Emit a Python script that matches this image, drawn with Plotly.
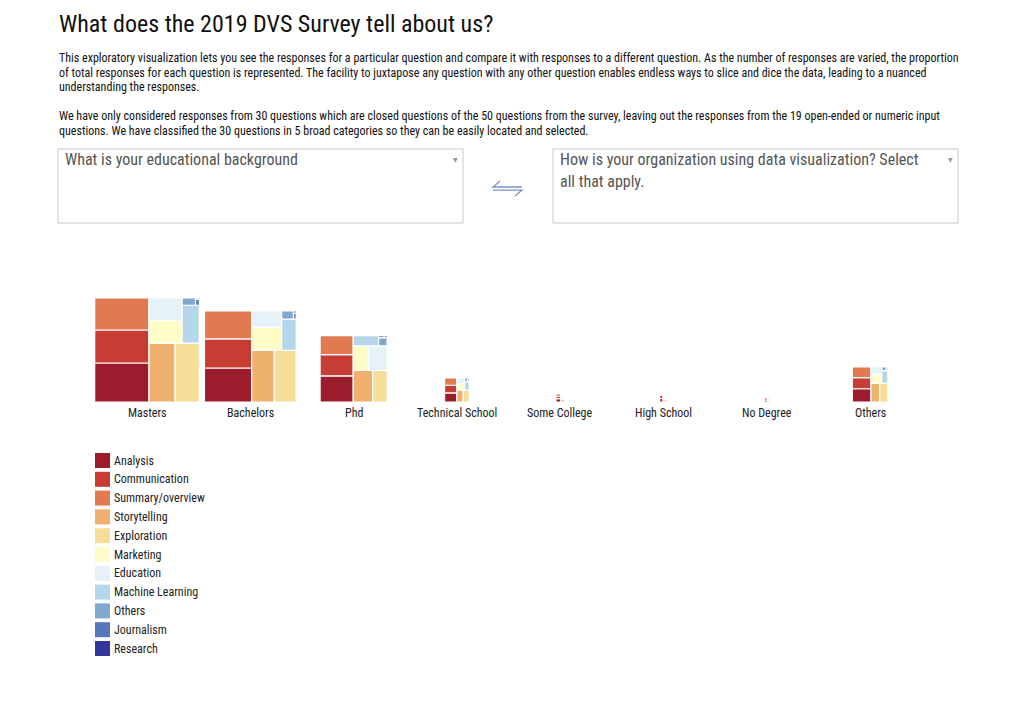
import plotly.graph_objs as go

W, H = 1024, 705
OFF = 8  # page body margin
FW, FH = W - 2 * OFF, H - 2 * OFF
FONT = "Roboto Condensed, Liberation Sans Narrow, DejaVu Sans Condensed, Roboto, sans-serif"

title = "What does the 2019 DVS Survey tell about us?"
intro_1 = ["This exploratory visualization lets you see the responses for a particular question and compare it with responses to a different question. As the number of responses are varied, the proportion",
           "of total responses for each question is represented. The facility to juxtapose any question with any other question enables endless ways to slice and dice the data, leading to a nuanced",
           "understanding the responses."]
intro_2 = ["We have only considered responses from 30 questions which are closed questions of the 50 questions from the survey, leaving out the responses from the 19 open-ended or numeric input",
           "questions. We have classified the 30 questions in 5 broad categories so they can be easily located and selected."]
question_left = ["What is your educational background"]
question_right = ["How is your organization using data visualization? Select", "all that apply."]

education = ["Masters", "Bachelors", "Phd", "Technical School", "Some College",
             "High School", "No Degree", "Others"]
usage = ["Analysis", "Communication", "Summary/overview", "Storytelling", "Exploration",
         "Marketing", "Education", "Machine Learning", "Others", "Journalism", "Research"]
colors = ["#9b1c2c", "#c83d33", "#e17a50", "#efb26e", "#f7de98", "#fefcc7",
          "#e5f2f7", "#b5d7e9", "#80a9d1", "#5478ba", "#35369b"]

# responses per usage, one list per education level
masters = [390, 330, 320, 284, 262, 140, 136, 120, 18, 4, 1]
bachelors = [296, 253, 244, 215, 208, 128, 89, 83, 18, 3, 1]
phd = [159, 129, 116, 113, 83, 70, 83, 48, 13, 2, 1]
technical = [20, 17, 16, 14, 13, 9, 8, 7, 2, 1, 0]
some_college = [3, 2, 2, 2, 1, 1, 1, 0, 0, 0, 0]
high_school = [2, 2, 1, 1, 1, 1, 1, 0, 0, 0, 0]
no_degree = [1, 1, 0, 1, 0, 0, 0, 0, 0, 0, 0]
others = [45, 38, 36, 30, 28, 18, 14, 14, 3, 1, 0]
counts = [masters, bachelors, phd, technical, some_college, high_school, no_degree, others]


def px(x):
    return (x - OFF) / FW


def py(y):
    return 1 - (y - OFF) / FH


def label(x, y, text, size=12, color="#111", xanchor="left", yanchor="middle"):
    return dict(x=px(x), y=py(y), text=text, showarrow=False, xanchor=xanchor,
                yanchor=yanchor, align="left", font=dict(size=size, color=color, family=FONT))


def path(points):
    return "M " + " L ".join("%.4f,%.4f" % (px(x), py(y)) for x, y in points)


fig = go.Figure()

# one small treemap per education level, square side ~ sqrt(total)
base_y = 402
first_x, step = 147, 103.3
scale = 104 / sum(masters) ** 0.5
for i, (edu, vals) in enumerate(zip(education, counts)):
    total = sum(vals)
    side = scale * total ** 0.5
    cx = first_x + i * step
    keep = [k for k, v in enumerate(vals) if v > 0]
    fig.add_trace(go.Treemap(
        ids=[edu] + [edu + "/" + usage[k] for k in keep],
        labels=[edu] + [usage[k] for k in keep],
        parents=[""] + [edu] * len(keep),
        values=[total] + [vals[k] for k in keep],
        branchvalues="total",
        sort=False,
        marker=dict(colors=["white"] + [colors[k] for k in keep],
                    line=dict(color="white", width=1.2),
                    pad=dict(t=0, l=0, r=0, b=0)),
        tiling=dict(packing="squarify", squarifyratio=1.618, flip="y", pad=0),
        pathbar=dict(visible=False),
        textinfo="none",
        hoverinfo="label+value",
        domain=dict(x=[px(cx - side / 2 - 0.3), px(cx + side / 2 + 0.3)],
                    y=[py(base_y), py(base_y - side)]),
    ))

annotations = [label(57, 8, title, size=24, yanchor="top")]
for j, line in enumerate(intro_1):
    annotations.append(label(57, 58 + j * 14.5, line))
for j, line in enumerate(intro_2):
    annotations.append(label(57, 116 + j * 14.5, line))
for j, line in enumerate(question_left):
    annotations.append(label(63, 160 + j * 21, line, size=16, color="#555"))
for j, line in enumerate(question_right):
    annotations.append(label(558, 160 + j * 21, line, size=16, color="#555"))
annotations += [
    label(455, 159, "▾", size=10, color="#999", xanchor="center"),
    label(950, 159, "▾", size=10, color="#999", xanchor="center"),
]
for i, edu in enumerate(education):
    annotations.append(label(first_x + i * step, 413, edu, color="#222", xanchor="center"))

shapes = [
    dict(type="rect", xref="paper", yref="paper", x0=px(58), x1=px(463), y0=py(149), y1=py(223),
         line=dict(color="#c9c9c9", width=1)),
    dict(type="rect", xref="paper", yref="paper", x0=px(553), x1=px(958), y0=py(149), y1=py(223),
         line=dict(color="#c9c9c9", width=1)),
    # swap icon between the two selectors
    dict(type="path", xref="paper", yref="paper", path=path([(500, 181), (493, 187), (522, 187)]),
         line=dict(color="#7a95c4", width=1.3)),
    dict(type="path", xref="paper", yref="paper", path=path([(493, 190), (522, 190), (515, 196)]),
         line=dict(color="#7a95c4", width=1.3)),
]

# legend drawn as swatches
leg_x, leg_y, leg_step = 95, 453, 18.8
for i, (u, c) in enumerate(zip(usage, colors)):
    top = leg_y + i * leg_step
    shapes.append(dict(type="rect", xref="paper", yref="paper", x0=px(leg_x), x1=px(leg_x + 15),
                       y0=py(top + 15), y1=py(top), fillcolor=c, line=dict(width=0)))
    annotations.append(label(leg_x + 17, top + 7.5, u, color="#222"))

fig.update_layout(
    width=FW, height=FH,
    margin=dict(l=0, r=0, t=0, b=0),
    paper_bgcolor="white",
    plot_bgcolor="white",
    showlegend=False,
    annotations=annotations,
    shapes=shapes,
    font=dict(family=FONT),
)

fig.write_html("out.html")
